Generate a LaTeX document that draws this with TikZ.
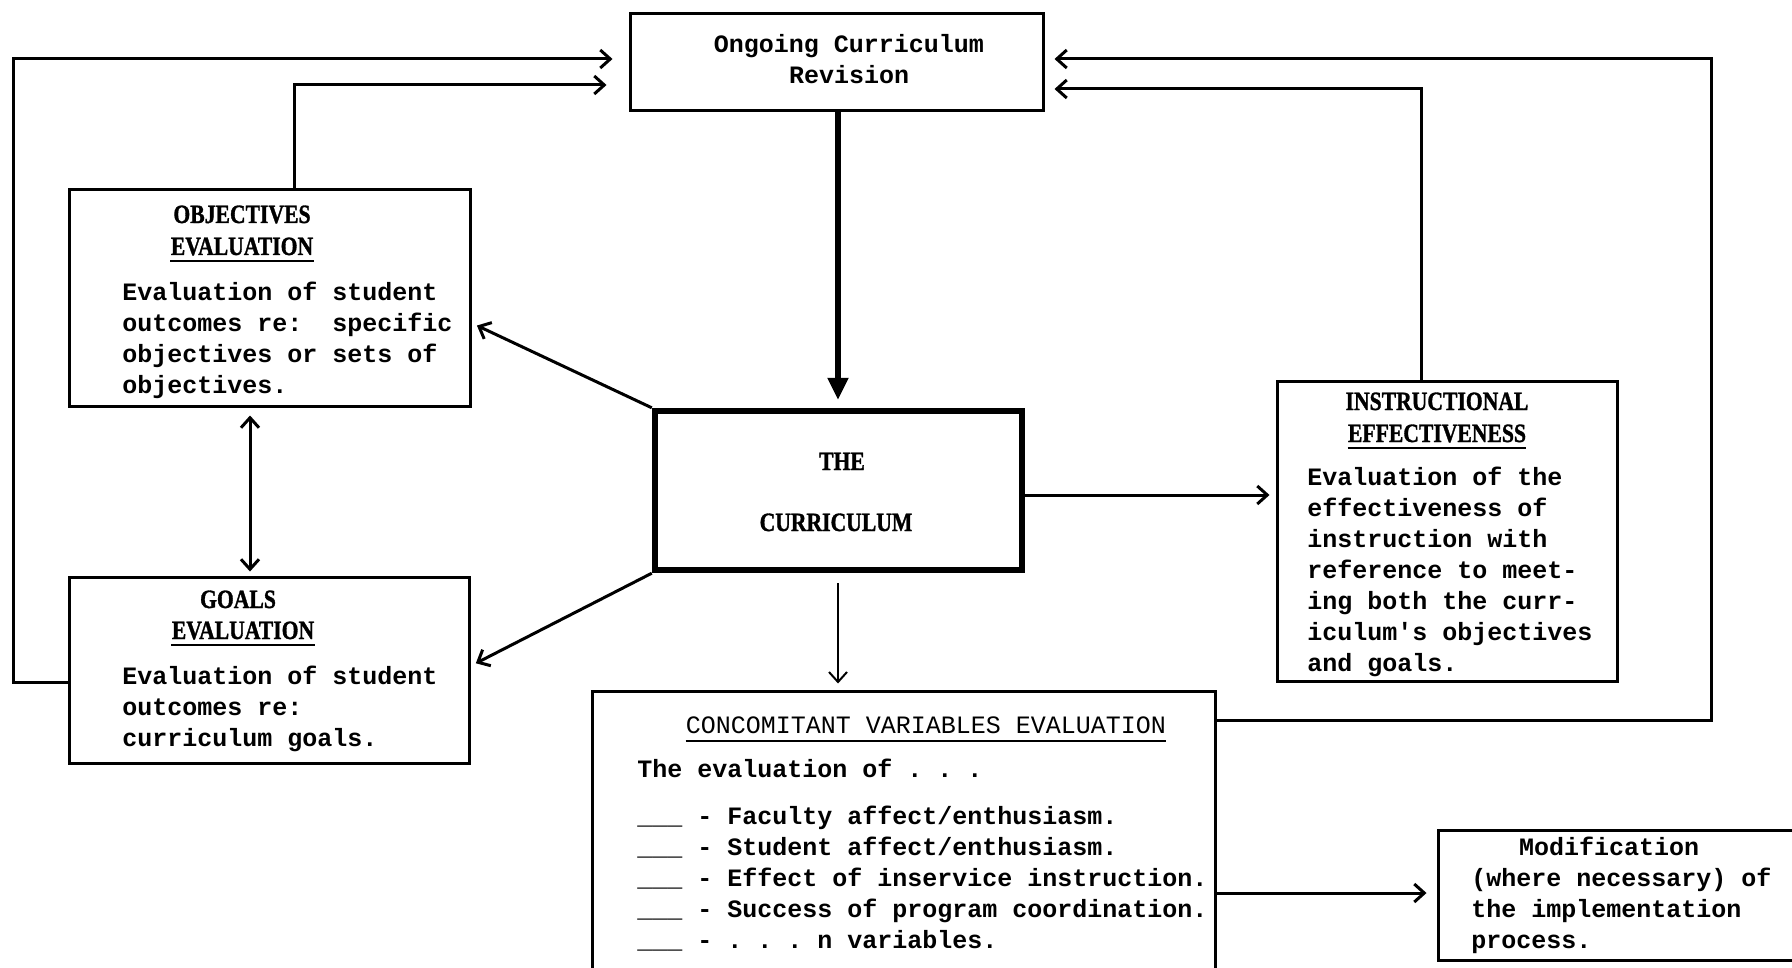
\documentclass[tikz,border=0pt]{standalone}
\usepackage{fontspec}
\setmonofont{Liberation Mono}
\newfontfamily\hdfont[FakeStretch=0.82,FakeBold=1.2]{Liberation Serif}
\usetikzlibrary{arrows.meta}
\begin{document}
\begin{tikzpicture}[x=0.5pt,y=-0.5pt,
  box/.style={draw, line width=1.5pt, inner sep=0pt},
  body/.style={font=\ttfamily\bfseries\fontsize{12.5}{15}\selectfont, inner sep=0pt, anchor=base west},
  head/.style={font=\hdfont\bfseries\fontsize{13.2}{15}\selectfont, inner sep=0pt, anchor=base},
  conn/.style={line width=1.5pt, -{Straight Barb[length=5pt,width=9pt]}},
  uline/.style={line width=1.1pt}
]
\useasboundingbox (0,0) rectangle (1792,968);

% boxes
\node[box, minimum width=206.5pt, minimum height=48.5pt] (ong) at (836.5,62.5) {};
\node[box, minimum width=200.5pt, minimum height=108pt] (obj) at (269.5,298) {};
\node[box, minimum width=200pt, minimum height=93pt] (goals) at (269,670) {};
\node[box, line width=3.2pt, minimum width=183.5pt, minimum height=79.5pt] (cur) at (838.5,490.5) {};
\node[box, minimum width=170pt, minimum height=150pt] (instr) at (1447,531) {};
\node[box, minimum width=311.5pt, minimum height=154.5pt] (conc) at (903.5,845.5) {};
\node[box, minimum width=186pt, minimum height=65pt] (mod) at (1624,895) {};

% Ongoing
\node[body, anchor=base] (oh1) at (849,53) {Ongoing Curriculum};
\node[body, anchor=base] (oh2) at (849,84) {Revision};

% Objectives
\node[head] (objh1) at (242,223) {OBJECTIVES};
\node[head] (objh2) at (242,255) {EVALUATION};
\draw[uline] ([yshift=-3pt]objh2.base west) -- ([yshift=-3pt]objh2.base east);
\foreach \t [count=\i] in {Evaluation of student, outcomes re:~~specific, objectives or sets of, objectives.}
  \node[body] (objb\i) at (122,{300+31*(\i-1)}) {\t};

% Goals
\node[head] (gh1) at (238,608) {GOALS};
\node[head] (gh2) at (243,639) {EVALUATION};
\draw[uline] ([yshift=-3pt]gh2.base west) -- ([yshift=-3pt]gh2.base east);
\foreach \t [count=\i] in {Evaluation of student, outcomes re:, curriculum goals.}
  \node[body] (gb\i) at (122,{684+31*(\i-1)}) {\t};

% Curriculum
\node[head] (ch1) at (842,470) {THE};
\node[head] (ch2) at (836,531) {CURRICULUM};

% Instructional
\node[head] (ih1) at (1437,410) {INSTRUCTIONAL};
\node[head] (ih2) at (1437,442) {EFFECTIVENESS};
\draw[uline] ([yshift=-3pt]ih2.base west) -- ([yshift=-3pt]ih2.base east);
\foreach \t [count=\i] in {Evaluation of the, effectiveness of, instruction with, reference to meet-, ing both the curr-, iculum's objectives, and goals.}
  \node[body] (ib\i) at (1307,{485+31*(\i-1)}) {\t};

% Concomitant
\node[body, anchor=base, font=\ttfamily\fontsize{12.5}{15}\selectfont] (cch) at (926,733) {CONCOMITANT VARIABLES EVALUATION};
\draw[uline] ([yshift=-4pt]cch.base west) -- ([yshift=-4pt]cch.base east);
\node[body] (cc0) at (637,777) {The evaluation of . . .};
\foreach \t [count=\i] in {\_\_\_ - Faculty affect/enthusiasm., \_\_\_ - Student affect/enthusiasm., \_\_\_ - Effect of inservice instruction., \_\_\_ - Success of program coordination., \_\_\_ - . . . n variables.}
  \node[body] (cc\i) at (637,{824+31*(\i-1)}) {\t};

% Modification
\node[body, anchor=base] (mh1) at (1609,855) {Modification};
\foreach \t [count=\i] in {(where necessary) of, the implementation, process.}
  \node[body] (mb\i) at (1471,{886+31*(\i-1)}) {\t};

% connectors
\draw[conn, shorten >=8pt] (goals.west |- 0,682) -- (13,682) |- (ong.west |- 0,59);
\draw[conn, shorten >=11pt] (obj.north -| 294,0) |- (ong.west |- 0,85);
\draw[conn, shorten >=5pt] (conc.east |- 0,720) -- (1711,720) |- (ong.east |- 0,59);
\draw[conn, shorten >=5pt] (instr.north -| 1421,0) |- (ong.east |- 0,89);
\draw[line width=2.6pt, -{Triangle[length=11pt,width=10pt]}, shorten >=4pt] (ong.south -| 838,0) -- (cur.north -| 838,0);
\draw[conn, shorten >=3pt] (cur.north west) -- (obj.east |- 0,323);
\draw[conn, shorten >=3pt] (cur.south west) -- (goals.east |- 0,666);
\draw[line width=1.5pt, {Straight Barb[length=5pt,width=9pt]}-{Straight Barb[length=5pt,width=9pt]}, shorten <=4pt, shorten >=2pt] (obj.south -| 250,0) -- (goals.north -| 250,0);
\draw[conn, shorten >=3pt] (cur.east |- 0,495) -- (instr.west |- 0,495);
\draw[line width=1pt, -{Straight Barb[length=5pt,width=9pt]}, shorten <=5pt, shorten >=3pt] (cur.south -| 838,0) -- (conc.north -| 838,0);
\draw[conn, shorten >=5pt] (conc.east |- 0,893) -- (mod.west |- 0,893);
\end{tikzpicture}
\end{document}
